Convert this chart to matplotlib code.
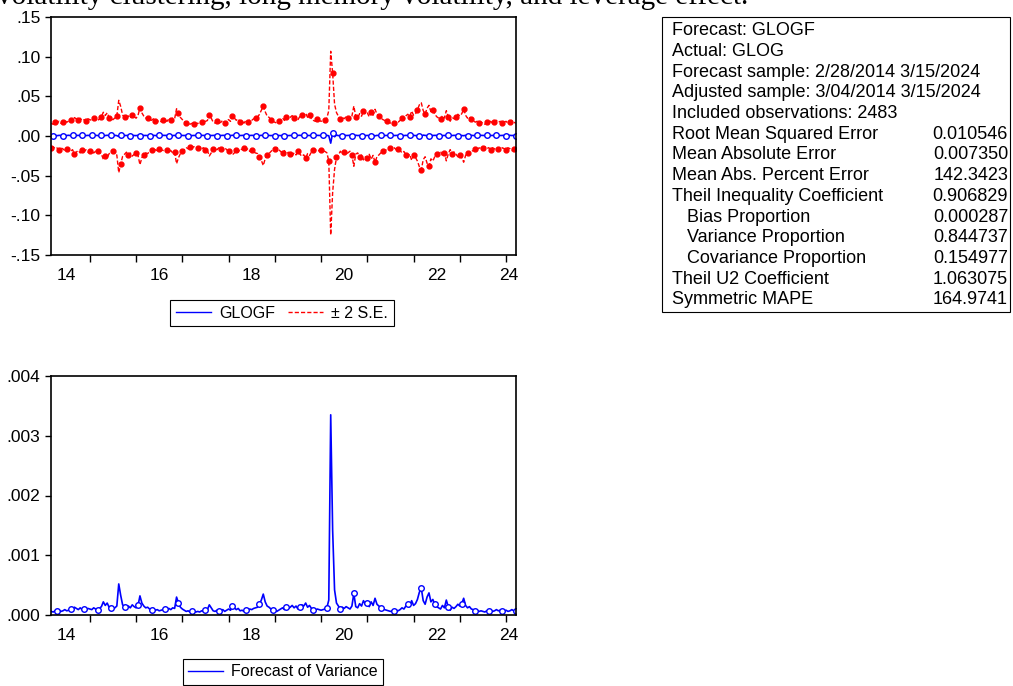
import numpy as np
import matplotlib.pyplot as plt
from matplotlib.lines import Line2D

plt.rcParams['font.family'] = ['Liberation Sans', 'DejaVu Sans']

# semi-monthly observations, 2/28/2014 .. 3/15/2024
start_year = 2014
n_obs = 242

# forecast of variance (x 1e-4)
var_2014 = [0.6, 0.5, 0.7, 0.6, 0.8, 0.6, 0.7, 0.9, 0.7, 0.8, 1.0, 0.8, 1.3, 1.1, 0.9, 1.2, 0.9, 1.0, 0.8, 1.1]
var_2015 = [1.0, 0.9, 1.2, 1.0, 0.9, 1.1, 1.4, 2.2, 1.6, 2.0, 1.3, 1.1, 1.0, 1.2, 1.5, 5.2, 3.3, 1.7, 1.4, 1.1, 1.5, 1.2, 1.7, 1.4]
var_2016 = [1.2, 1.6, 3.2, 2.0, 1.5, 1.2, 1.3, 1.0, 0.9, 1.1, 0.8, 0.9, 0.7, 0.8, 0.9, 1.0, 0.8, 1.1, 0.9, 1.2, 1.1, 3.0, 2.0, 1.3]
var_2017 = [1.0, 0.8, 0.6, 0.7, 0.5, 0.6, 0.5, 0.5, 0.6, 0.5, 0.7, 0.6, 0.8, 0.9, 1.7, 1.2, 0.7, 0.6, 0.8, 0.6, 0.7, 0.9, 0.6, 0.8]
var_2018 = [1.0, 0.8, 1.5, 1.2, 0.9, 1.1, 0.7, 0.8, 0.6, 0.9, 0.7, 1.0, 0.9, 1.1, 1.2, 1.3, 1.8, 2.5, 3.5, 2.2, 1.5, 1.3, 1.0, 0.8]
var_2019 = [0.7, 0.6, 0.8, 1.0, 1.2, 0.9, 1.4, 1.1, 1.3, 1.6, 1.2, 1.5, 1.0, 1.4, 1.7, 1.5, 2.0, 1.3, 1.6, 1.1, 0.9, 0.8, 1.0, 0.9]
var_2020 = [0.8, 0.9, 1.0, 1.2, 2.5, 33.5, 14.2, 4.2, 2.0, 1.5, 1.0, 1.3, 1.1, 1.4, 1.2, 1.0, 1.5, 3.6, 1.4, 1.2, 1.9, 1.5, 2.4, 1.8]
var_2021 = [2.0, 1.4, 2.2, 1.6, 2.8, 1.8, 1.5, 1.2, 1.0, 0.9, 0.8, 0.7, 0.6, 0.7, 0.6, 0.8, 0.7, 0.9, 1.2, 1.0, 1.5, 1.8, 1.4, 2.4]
var_2022 = [1.6, 1.9, 2.6, 3.8, 4.5, 2.4, 1.8, 3.0, 3.7, 2.2, 2.6, 1.8, 1.4, 1.2, 1.0, 1.6, 1.2, 2.5, 1.4, 0.8, 1.3, 1.1, 1.4, 1.8]
var_2023 = [1.5, 1.9, 2.8, 1.6, 1.2, 1.4, 1.0, 0.9, 0.7, 0.8, 0.6, 0.7, 0.6, 0.5, 0.7, 0.6, 0.8, 0.6, 0.7, 0.9, 0.7, 0.8, 0.6, 0.7]
var_2024 = [0.8, 0.6, 0.7, 0.9, 0.7, 0.6]

# GLOGF forecast (x 1e-4)
f_2014 = [6, 5, 7, 4, 8, 6, 5, 7, 6, 9, 5, 7, 4, 6, 8, 5, 7, 6, 5, 8]
f_2015 = [6, 7, 5, 8, 6, 4, 7, 3, 6, 9, 5, 7, 6, 8, 5, -6, 10, 4, 7, 6, 8, 5, 7, 6]
f_2016 = [5, 8, -4, 9, 6, 7, 5, 6, 8, 7, 6, 5, 7, 6, 8, 7, 5, 6, 7, 5, 8, -3, 9, 6]
f_2017 = [7, 6, 8, 6, 7, 5, 7, 6, 7, 6, 8, 7, 6, 5, 9, 6, 7, 8, 6, 7, 6, 8, 7, 6]
f_2018 = [7, 5, 9, 6, 8, 7, 6, 7, 8, 6, 7, 6, 8, 7, 5, 7, 4, 9, 2, 10, 6, 7, 5, 7]
f_2019 = [6, 8, 7, 5, 8, 6, 9, 5, 7, 4, 8, 6, 7, 9, 5, 8, 3, 7, 6, 8, 7, 6, 8, 7]
f_2020 = [6, 7, 5, 8, 3, -90, 40, -10, 12, 4, 8, 5, 9, 6, 7, 8, 5, -2, 9, 6, 7, 4, 8, 5]
f_2021 = [7, 6, 4, 9, 2, 8, 6, 7, 8, 6, 7, 6, 8, 7, 6, 7, 8, 6, 7, 5, 8, 6, 7, 4]
f_2022 = [8, 5, 6, 3, -5, 11, 7, 4, 2, 9, 6, 8, 7, 6, 8, 5, 7, 3, 9, 7, 6, 8, 7, 6]
f_2023 = [7, 5, 4, 8, 6, 7, 8, 6, 7, 7, 6, 8, 7, 6, 7, 8, 6, 7, 6, 8, 7, 6, 7, 8]
f_2024 = [6, 7, 8, 6, 7, 6]

# evaluation table
stat_labels = ['Forecast: GLOGF', 'Actual: GLOG',
               'Forecast sample: 2/28/2014 3/15/2024',
               'Adjusted sample: 3/04/2014 3/15/2024',
               'Included observations: 2483',
               'Root Mean Squared Error', 'Mean Absolute Error',
               'Mean Abs. Percent Error', 'Theil Inequality Coefficient',
               '   Bias Proportion', '   Variance Proportion',
               '   Covariance Proportion', 'Theil U2 Coefficient',
               'Symmetric MAPE']
stat_values = ['', '', '', '', '', '0.010546', '0.007350', '142.3423',
               '0.906829', '0.000287', '0.844737', '0.154977', '1.063075',
               '164.9741']

year_labels = ['14', '16', '18', '20', '22', '24']
year_label_pos = [2014.5, 2016.5, 2018.5, 2020.5, 2022.5, 2024.05]

t = start_year + (4 + np.arange(n_obs)) / 24.0
var = np.array(var_2014 + var_2015 + var_2016 + var_2017 + var_2018 + var_2019
               + var_2020 + var_2021 + var_2022 + var_2023 + var_2024) * 1e-4
glogf = np.array(f_2014 + f_2015 + f_2016 + f_2017 + f_2018 + f_2019
                 + f_2020 + f_2021 + f_2022 + f_2023 + f_2024) * 1e-4
se = np.sqrt(var)
upper = glogf + 2 * se
lower = glogf - 2 * se

W, H = 1013, 686
fig = plt.figure(figsize=(W / 100, H / 100), dpi=100)

# cut-off line of the document text above the chart
fig.text(-0.003, 1 - 4 / H, 'volatility clustering, long memory volatility, and leverage effect.',
         family='Liberation Serif', fontsize=21, va='baseline', ha='left')


def style_axis(ax):
    ax.set_xlim(2014.16, 2024.215)
    ax.set_xticks(range(2015, 2025))
    ax.set_xticklabels([])
    ax.set_xticks(year_label_pos, minor=True)
    ax.set_xticklabels(year_labels, minor=True)
    ax.tick_params(axis='x', which='major', direction='out', length=5, width=1)
    ax.tick_params(axis='x', which='minor', length=0, pad=9, labelsize=12.5)
    ax.tick_params(axis='y', direction='out', length=4, width=1, labelsize=12.5)
    for s in ax.spines.values():
        s.set_linewidth(1.2)


ax1 = fig.add_axes([51 / W, 1 - 255 / H, 465 / W, 238 / H])
ax1.plot(t, upper, color='red', ls=(0, (3, 1.5)), lw=1, marker='o', ms=3.5, markevery=(2, 4))
ax1.plot(t, lower, color='red', ls=(0, (3, 1.5)), lw=1, marker='o', ms=3.5, markevery=(0, 4))
ax1.plot(t, glogf, color='blue', lw=1.2, marker='o', ms=4, mfc='white', mew=1, markevery=(1, 5))
ax1.set_ylim(-0.15, 0.15)
ax1.set_yticks(np.arange(-0.15, 0.151, 0.05))
ax1.set_yticklabels(['-.15', '-.10', '-.05', '.00', '.05', '.10', '.15'])
style_axis(ax1)

ax2 = fig.add_axes([51 / W, 1 - 615 / H, 465 / W, 239 / H])
ax2.plot(t, var, color='blue', lw=1.2, marker='o', ms=4, mfc='white', mew=1, markevery=(3, 7))
ax2.set_ylim(0, 0.004)
ax2.set_yticks([0, 0.001, 0.002, 0.003, 0.004])
ax2.set_yticklabels(['.000', '.001', '.002', '.003', '.004'])
style_axis(ax2)

leg_kw = dict(loc='center', fontsize=11.5, fancybox=False, edgecolor='black',
              framealpha=1, handlelength=2.2, handletextpad=0.5,
              columnspacing=0.8, borderpad=0.35)
leg1 = fig.legend(handles=[Line2D([], [], color='blue', lw=1),
                           Line2D([], [], color='red', lw=1, ls=(0, (3, 1.5)))],
                  labels=['GLOGF', '± 2 S.E.'], ncol=2,
                  bbox_to_anchor=(282 / W, 1 - 313 / H), **leg_kw)
leg1.get_frame().set_linewidth(0.8)
leg2 = fig.legend(handles=[Line2D([], [], color='blue', lw=1)],
                  labels=['Forecast of Variance'],
                  bbox_to_anchor=(283 / W, 1 - 672 / H), **leg_kw)
leg2.get_frame().set_linewidth(0.8)

# statistics box
fig.patches.append(plt.Rectangle((662 / W, 1 - 312 / H), 348 / W, 295 / H,
                                 transform=fig.transFigure, fill=False,
                                 edgecolor='black', lw=0.8))
for i, (lab, val) in enumerate(zip(stat_labels, stat_values)):
    y = 1 - (30.7 + 20.7 * i) / H
    fig.text(672 / W, y, lab, fontsize=13, va='center', ha='left')
    if val:
        fig.text(1008 / W, y, val, fontsize=13, va='center', ha='right')

plt.savefig('out.png', dpi=100)
